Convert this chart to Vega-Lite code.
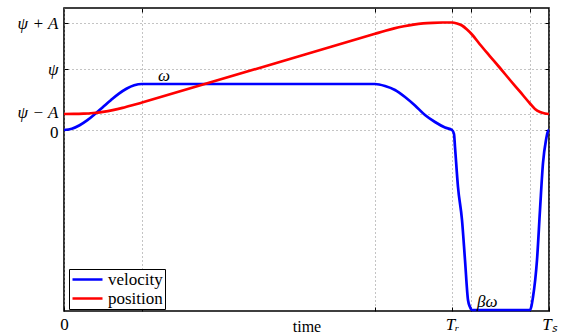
{
  "$schema": "https://vega.github.io/schema/vega-lite/v6.json",
  "autosize": {"type": "none"},
  "padding": {"left": 64, "top": 8, "right": 19, "bottom": 25},
  "width": 485,
  "height": 303,
  "config": {
    "view": {"stroke": "black", "strokeWidth": 1.6},
    "font": "Liberation Serif",
    "legend": {"labelFont": "Liberation Serif", "titleFont": "Liberation Serif"},
    "axis": {
      "labelFont": "Liberation Serif",
      "titleFont": "Liberation Serif",
      "labelFontSize": 17,
      "titleFontSize": 16,
      "titleFontWeight": "normal",
      "labelColor": "black",
      "titleColor": "black",
      "labelOverlap": false,
      "domain": false,
      "tickColor": "black",
      "tickSize": -4,
      "tickWidth": 1,
      "gridColor": "#888888",
      "gridDash": [1, 3],
      "gridWidth": 1
    }
  },
  "datasets": {
    "curves": [
      {"t": 0, "value": 0, "series": "velocity"},
      {"t": 7.8, "value": 1.3, "series": "velocity"},
      {"t": 15.6, "value": 4.8, "series": "velocity"},
      {"t": 23.4, "value": 9.9, "series": "velocity"},
      {"t": 31.2, "value": 16.2, "series": "velocity"},
      {"t": 39, "value": 23, "series": "velocity"},
      {"t": 46.8, "value": 29.8, "series": "velocity"},
      {"t": 54.6, "value": 36.1, "series": "velocity"},
      {"t": 62.4, "value": 41.2, "series": "velocity"},
      {"t": 70.2, "value": 44.7, "series": "velocity"},
      {"t": 78, "value": 46, "series": "velocity"},
      {"t": 311, "value": 46, "series": "velocity"},
      {"t": 321, "value": 44, "series": "velocity"},
      {"t": 331, "value": 40, "series": "velocity"},
      {"t": 341, "value": 33, "series": "velocity"},
      {"t": 351, "value": 24.5, "series": "velocity"},
      {"t": 361, "value": 15, "series": "velocity"},
      {"t": 371, "value": 8, "series": "velocity"},
      {"t": 381, "value": 2.5, "series": "velocity"},
      {"t": 388, "value": 0, "series": "velocity"},
      {"t": 390, "value": -4, "series": "velocity"},
      {"t": 391, "value": -17, "series": "velocity"},
      {"t": 394, "value": -57, "series": "velocity"},
      {"t": 398, "value": -90, "series": "velocity"},
      {"t": 401, "value": -130, "series": "velocity"},
      {"t": 404, "value": -170, "series": "velocity"},
      {"t": 406, "value": -177, "series": "velocity"},
      {"t": 408, "value": -180, "series": "velocity"},
      {"t": 466, "value": -180, "series": "velocity"},
      {"t": 469, "value": -167, "series": "velocity"},
      {"t": 473, "value": -130, "series": "velocity"},
      {"t": 476, "value": -80, "series": "velocity"},
      {"t": 479, "value": -33, "series": "velocity"},
      {"t": 482, "value": -10, "series": "velocity"},
      {"t": 484, "value": -1, "series": "velocity"},
      {"t": 485, "value": 0, "series": "velocity"},
      {"t": 0, "value": 16, "series": "position"},
      {"t": 9.75, "value": 16.04, "series": "position"},
      {"t": 19.5, "value": 16.3, "series": "position"},
      {"t": 29.25, "value": 17.0, "series": "position"},
      {"t": 39, "value": 18.2, "series": "position"},
      {"t": 48.75, "value": 19.9, "series": "position"},
      {"t": 58.5, "value": 22.1, "series": "position"},
      {"t": 68.25, "value": 24.7, "series": "position"},
      {"t": 78, "value": 27.5, "series": "position"},
      {"t": 311, "value": 96.2, "series": "position"},
      {"t": 320.6, "value": 99.0, "series": "position"},
      {"t": 330.25, "value": 101.6, "series": "position"},
      {"t": 339.9, "value": 103.7, "series": "position"},
      {"t": 349.5, "value": 105.4, "series": "position"},
      {"t": 359.1, "value": 106.6, "series": "position"},
      {"t": 368.75, "value": 107.2, "series": "position"},
      {"t": 378.4, "value": 107.5, "series": "position"},
      {"t": 388, "value": 107.5, "series": "position"},
      {"t": 393, "value": 106.5, "series": "position"},
      {"t": 398, "value": 104.5, "series": "position"},
      {"t": 403, "value": 100.5, "series": "position"},
      {"t": 408, "value": 95.5, "series": "position"},
      {"t": 416, "value": 85.5, "series": "position"},
      {"t": 426, "value": 73.7, "series": "position"},
      {"t": 436, "value": 62, "series": "position"},
      {"t": 446, "value": 50, "series": "position"},
      {"t": 456, "value": 38.3, "series": "position"},
      {"t": 466, "value": 26.5, "series": "position"},
      {"t": 471, "value": 21, "series": "position"},
      {"t": 476, "value": 18, "series": "position"},
      {"t": 481, "value": 16.5, "series": "position"},
      {"t": 485, "value": 16, "series": "position"}
    ],
    "notes": [
      {"t": 94, "value": 49, "label": "ω"},
      {"t": 413, "value": -177, "label": "βω"}
    ]
  },
  "layer": [
    {
      "data": {"name": "curves"},
      "mark": {"type": "line", "strokeWidth": 2.7, "interpolate": "monotone"},
      "encoding": {
        "x": {
          "field": "t", "type": "quantitative",
          "scale": {"domain": [0, 485], "nice": false, "zero": false},
          "axis": {
            "orient": "bottom",
            "values": [0, 78, 311, 388, 407, 466, 485],
            "labelExpr": "datum.value == 0 ? '0' : datum.value == 388 ? 'Tᵣ' : datum.value == 485 ? 'Tₛ' : ''",
            "labelFontStyle": {"condition": {"test": "datum.value == 0", "value": "normal"}, "value": "italic"},
            "labelPadding": 9,
            "labelFlush": false,
            "title": "time",
            "titleBaseline": "alphabetic",
            "titleY": 20,
            "grid": true
          }
        },
        "y": {
          "field": "value", "type": "quantitative",
          "scale": {"domain": [-181, 122], "nice": false, "zero": false},
          "axis": {
            "orient": "left",
            "values": [0, 16, 61, 107],
            "labelExpr": "datum.value == 0 ? '0' : datum.value == 16 ? 'ψ − A' : datum.value == 61 ? 'ψ' : 'ψ + A'",
            "labelFontStyle": {"condition": {"test": "datum.value == 0", "value": "normal"}, "value": "italic"},
            "labelOffset": {"condition": [{"test": "datum.value == 0", "value": 2}, {"test": "datum.value == 16", "value": -2}], "value": 0},
            "labelPadding": 10,
            "labelFlush": false,
            "labelOverlap": false,
            "title": null,
            "grid": true
          }
        },
        "color": {
          "field": "series", "type": "nominal",
          "scale": {"domain": ["velocity", "position"], "range": ["#0000ff", "#ff0000"]},
          "legend": {
            "title": null,
            "orient": "none",
            "legendX": 5,
            "legendY": 261,
            "symbolType": "stroke",
            "symbolSize": 900,
            "symbolStrokeWidth": 2.7,
            "clipHeight": 17,
            "labelFont": "Liberation Serif",
            "labelFontSize": 17,
            "labelColor": "black",
            "labelOffset": 4,
            "strokeColor": "black",
            "fillColor": "white",
            "padding": 2,
            "rowPadding": 1,
            "cornerRadius": 0
          }
        }
      }
    },
    {
      "data": {"name": "notes"},
      "mark": {"type": "text", "font": "Liberation Serif", "fontSize": 17, "fontStyle": "italic", "align": "left", "baseline": "alphabetic"},
      "encoding": {
        "x": {
          "field": "t", "type": "quantitative",
          "scale": {"domain": [0, 485], "nice": false, "zero": false},
          "axis": {"orient": "top", "values": [78, 311, 388, 407, 466], "labels": false, "title": null, "grid": false}
        },
        "y": {
          "field": "value", "type": "quantitative",
          "scale": {"domain": [-181, 122], "nice": false, "zero": false},
          "axis": {"orient": "right", "values": [0, 16, 61, 107], "labels": false, "title": null, "grid": false}
        },
        "text": {"field": "label", "type": "nominal"}
      }
    }
  ],
  "resolve": {"axis": {"x": "independent", "y": "independent"}}
}
